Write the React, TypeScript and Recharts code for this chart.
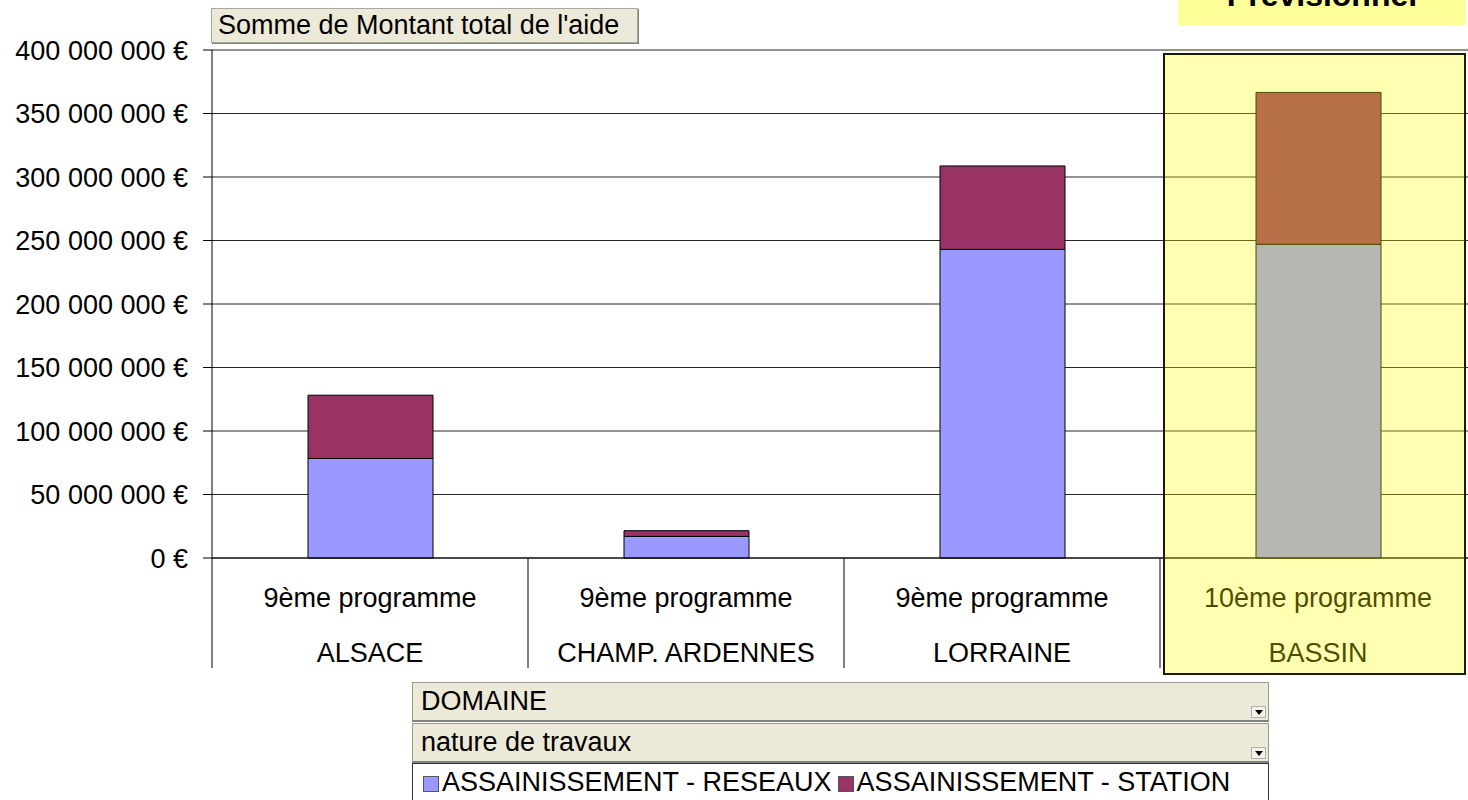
import { BarChart, Bar, XAxis, YAxis, CartesianGrid } from "recharts";

const categories = ["ALSACE", "CHAMP. ARDENNES", "LORRAINE", "BASSIN"];
const programmes = ["9ème programme", "9ème programme", "9ème programme", "10ème programme"];
const reseaux = [78.4e6, 17.0e6, 243.0e6, 247.0e6];
const station = [49.8e6, 4.5e6, 65.7e6, 119.6e6];
const yTicks = [0, 50e6, 100e6, 150e6, 200e6, 250e6, 300e6, 350e6, 400e6];

const seriesNames = ["ASSAINISSEMENT - RESEAUX", "ASSAINISSEMENT - STATION"];
const seriesColors = ["#9999FF", "#993366"];

const data = categories.map((c, i) => ({
  region: c,
  programme: programmes[i],
  reseaux: reseaux[i],
  station: station[i],
}));

const FONT = "'Liberation Sans', Arial, sans-serif";
const CHART_W = 1480;
const PLOT_LEFT = 212;
const PLOT_RIGHT = 1476;
const BAND = (PLOT_RIGHT - PLOT_LEFT) / categories.length;

const euro = (v: number) =>
  String(Math.round(v)).replace(/\B(?=(\d{3})+(?!\d))/g, " ") + " €";

const XTick = (props: any) => {
  const { x, y, payload } = props;
  const i = categories.indexOf(payload.value);
  return (
    <g>
      <line x1={x - BAND / 2} x2={x - BAND / 2} y1={y} y2={y + 110} stroke="#000" />
      <text x={x} y={y + 49} textAnchor="middle" fontSize={27} fill="#000">
        {programmes[i]}
      </text>
      <text x={x} y={y + 104} textAnchor="middle" fontSize={27} fill="#000">
        {payload.value}
      </text>
    </g>
  );
};

const pivotBox: React.CSSProperties = {
  position: "absolute",
  left: 412,
  width: 857,
  height: 40,
  boxSizing: "border-box",
  background: "#ECE9D8",
  border: "1px solid #9a9a90",
  borderBottom: "2px solid #808080",
  fontSize: 27,
  lineHeight: "36px",
  paddingLeft: 8,
  color: "#000",
};

const Arrow = () => (
  <div
    style={{
      position: "absolute",
      right: 2,
      bottom: 2,
      width: 15,
      height: 12,
      background: "#F4F3EE",
      border: "1px solid #b0b0a8",
      boxSizing: "border-box",
    }}
  >
    <div
      style={{
        position: "absolute",
        left: 3,
        top: 3,
        width: 0,
        height: 0,
        borderLeft: "4px solid transparent",
        borderRight: "4px solid transparent",
        borderTop: "5px solid #000",
      }}
    />
  </div>
);

export default function App() {
  return (
    <div
      style={{
        position: "absolute",
        left: 0,
        top: 0,
        width: 1468,
        height: 800,
        overflow: "hidden",
        background: "#fff",
        fontFamily: FONT,
      }}
    >
      <div style={{ position: "absolute", left: 0, top: 0 }}>
        <BarChart
          width={CHART_W}
          height={672}
          data={data}
          margin={{ top: 50, right: CHART_W - PLOT_RIGHT, left: 0, bottom: 0 }}
          barSize={125}
        >
          <CartesianGrid vertical={false} stroke="#000" strokeOpacity={0.85} />
          <XAxis
            dataKey="region"
            height={114}
            tickSize={0}
            tickMargin={0}
            axisLine={{ stroke: "#000" }}
            tickLine={false}
            tick={<XTick />}
            interval={0}
          />
          <YAxis
            width={PLOT_LEFT}
            domain={[0, 400e6]}
            ticks={yTicks}
            tickFormatter={euro}
            tickSize={9}
            tickMargin={15}
            axisLine={{ stroke: "#000" }}
            tickLine={{ stroke: "#000" }}
            tick={{ fontSize: 27, fill: "#000" }}
          />
          <Bar
            dataKey="reseaux"
            name={seriesNames[0]}
            stackId="a"
            fill={seriesColors[0]}
            stroke="#000"
            strokeWidth={1}
            isAnimationActive={false}
          />
          <Bar
            dataKey="station"
            name={seriesNames[1]}
            stackId="a"
            fill={seriesColors[1]}
            stroke="#000"
            strokeWidth={1}
            isAnimationActive={false}
          />
        </BarChart>
      </div>

      {/* data field button */}
      <div
        style={{
          position: "absolute",
          left: 211,
          top: 8,
          width: 427,
          height: 35,
          boxSizing: "border-box",
          background: "#ECE9D8",
          border: "1px solid #a8a8a0",
          boxShadow: "1px 1px 0 #808080",
          fontSize: 27,
          lineHeight: "33px",
          paddingLeft: 6,
          whiteSpace: "nowrap",
        }}
      >
        Somme de Montant total de l'aide
      </div>

      {/* forecast highlight */}
      <div
        style={{
          position: "absolute",
          left: 1163,
          top: 53,
          width: 303,
          height: 622,
          boxSizing: "border-box",
          background: "rgba(255,255,0,0.3)",
          border: "2px solid #1a1a00",
        }}
      />
      <div
        style={{
          position: "absolute",
          left: 1178,
          top: 0,
          width: 288,
          height: 25,
          background: "#FFFF99",
          overflow: "hidden",
        }}
      >
        <div
          style={{
            position: "absolute",
            left: 0,
            right: 0,
            top: -21,
            textAlign: "center",
            fontWeight: "bold",
            fontSize: 32,
            lineHeight: "32px",
            color: "#000",
          }}
        >
          Prévisionnel
        </div>
      </div>

      {/* pivot fields */}
      <div style={{ ...pivotBox, top: 682 }}>
        DOMAINE
        <Arrow />
      </div>
      <div style={{ ...pivotBox, top: 723 }}>
        nature de travaux
        <Arrow />
      </div>
      <div
        style={{
          position: "absolute",
          left: 412,
          top: 763,
          width: 857,
          height: 42,
          boxSizing: "border-box",
          background: "#fff",
          border: "1px solid #333",
          fontSize: 27,
          lineHeight: "36px",
          paddingLeft: 10,
          whiteSpace: "nowrap",
        }}
      >
        {seriesNames.map((n, i) => (
          <span key={n} style={{ marginRight: i === 0 ? 6 : 0 }}>
            <span
              style={{
                display: "inline-block",
                width: 16,
                height: 16,
                background: seriesColors[i],
                border: "1px solid #555",
                boxSizing: "border-box",
                marginRight: 3,
                verticalAlign: "-1px",
              }}
            />
            {n}
          </span>
        ))}
      </div>
    </div>
  );
}
